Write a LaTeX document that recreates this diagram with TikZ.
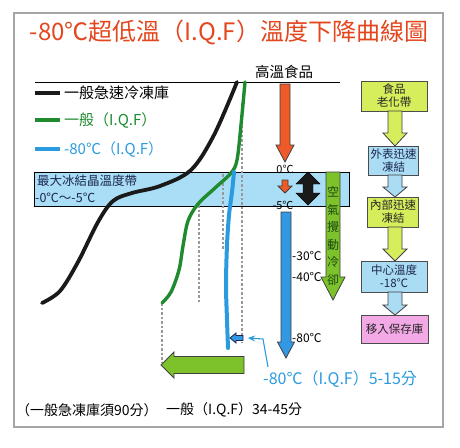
\documentclass[tikz,border=0pt]{standalone}
\usepackage{fontspec}
\setmainfont{Noto Sans CJK TC}
\usetikzlibrary{arrows.meta}
\definecolor{titlered}{HTML}{E4461E}
\definecolor{cblack}{HTML}{1A1A1A}
\definecolor{cgreen}{HTML}{1F8A2E}
\definecolor{cblue}{HTML}{2B9BE0}
\definecolor{bandblue}{HTML}{A9DEF6}
\definecolor{arrorange}{HTML}{EF5A2A}
\definecolor{arrblue}{HTML}{3398E4}
\definecolor{arrgreen}{HTML}{7DC22B}
\definecolor{boxyellow}{HTML}{D6EE5C}
\definecolor{boxblue}{HTML}{AADCF4}
\definecolor{boxpink}{HTML}{F3A9E6}
\definecolor{darkgreen}{HTML}{1E4A10}
\definecolor{navy}{HTML}{1C2650}
\newcommand\downblk[7]{%
  \draw[#7] ({#1-#4/2},#2) -- ({#1+#4/2},#2) -- ({#1+#4/2},{#3-#6}) -- ({#1+#5/2},{#3-#6}) -- (#1,#3) -- ({#1-#5/2},{#3-#6}) -- ({#1-#4/2},{#3-#6}) -- cycle;}
\tikzset{
  curve/.style={line width=3.8pt, line cap=round, line join=round},
  guide/.style={draw=gray!80, line width=1.6pt, dash pattern=on 2.5pt off 2pt},
  blkout/.style={draw=black!75, line width=0.8pt, line join=miter},
  boxstyle/.style={draw=black!70, line width=0.8pt, inner sep=0pt, align=center,
    font=\fontsize{11.5}{13}\selectfont, text=black!85},
  lbl/.style={inner sep=0pt, font=\fontsize{12}{13}\selectfont},
}
\begin{document}
\begin{tikzpicture}[x=1pt,y=-1pt]
\useasboundingbox (0,0) rectangle (460,447);
\fill[white] (0,0) rectangle (460,447);
% frame
\draw[gray!70, line width=1.2pt] (14,13) rectangle (443,427);
% title
\node[inner sep=0pt, text=titlered, font=\fontsize{24}{26}\selectfont] (title) at (229,32) {-80℃超低溫（I.Q.F）溫度下降曲線圖};
\node[inner sep=0pt, font=\fontsize{14.5}{15}\selectfont] (hot) at (284,72) {高溫食品};
\draw[black, line width=0.8pt] (35,82) coordinate (topl) -- (340,82) coordinate (topr);
% legend
\draw[cblack, line width=4pt] (35,93) -- (60,93);
\node[anchor=west, inner sep=0pt, font=\fontsize{15}{16}\selectfont] (lg1) at (64,93) {一般急速冷凍庫};
\draw[cgreen, line width=4pt] (35,120) -- (60,120);
\node[anchor=west, inner sep=0pt, text=cgreen, font=\fontsize{15}{16}\selectfont] (lg2) at (64,120) {一般（I.Q.F）};
\draw[cblue, line width=4pt] (35,149) -- (60,149);
\node[anchor=west, inner sep=0pt, text=cblue, font=\fontsize{15}{16}\selectfont] (lg3) at (64,149) {-80℃（I.Q.F）};
% band
\draw[fill=bandblue, draw=black, line width=0.9pt] (34,172) rectangle (349,206);
\node[anchor=west, lbl, text=navy, font=\fontsize{12.5}{13}\selectfont] (bd1) at (37,181) {最大冰結晶溫度帶};
\node[anchor=west, lbl, text=navy, font=\fontsize{12.5}{13}\selectfont] (bd2) at (35,198) {-0℃～-5℃};
% guides
\draw[guide] (162,303) -- (162,362);
\draw[guide] (199,205) -- (199,303);
\draw[guide] (223,174) -- (223,250);
\draw[guide] (242,103) -- (242,343);
% curves
\draw[curve, cblack] plot[smooth, tension=0.55] coordinates {(237,82) (214,135) (191,170) (160,186) (132,193) (113,201) (98,222) (78,262) (60,291) (42,303)};
\draw[curve, cgreen, line width=3.4pt] plot[smooth, tension=0.55] coordinates {(245,82) (241,125) (237,160) (231,173) (215,188) (198,204) (188,221) (183,246) (179,270) (171,292) (162,303)};
\draw[curve, cblue, line width=4pt] plot[smooth, tension=0.55] coordinates {(234,172) (232,192) (229,215) (227,245) (226,285) (227,320) (228,348)};
% small blue arrow and pointer
\draw[fill=arrblue, draw=navy, line width=0.8pt] (230,338) -- (236,333) -- (236,335.5) -- (243,335.5) -- (243,340.5) -- (236,340.5) -- (236,343) -- cycle;
\coordinate (ptr) at (248,338);
\node[anchor=west, inner sep=0pt, text=cblue, font=\fontsize{16}{17}\selectfont] (res) at (263,379) {-80℃（I.Q.F）5-15分};
\draw[cblue, line width=1.1pt, -{Stealth[length=7pt,width=6pt]}] (268,367) -- (263,339) -- (ptr);
% big green left arrow
\draw[fill=arrgreen, blkout] (161,365) -- (174,352) -- (174,356.5) -- (244,356.5) -- (244,373.5) -- (174,373.5) -- (174,378) -- cycle;
% central arrows
\downblk{285}{84}{162}{10}{18}{17}{fill=arrorange, blkout}
\node[lbl, font=\fontsize{11}{12}\selectfont] (t0) at (285,169) {0℃};
\downblk{285}{180}{193}{6}{14}{7}{fill=arrorange, blkout}
\node[lbl, font=\fontsize{11}{12}\selectfont] (t5) at (283,205) {-5℃};
\draw[fill=cblack, draw=black] (308,172) -- (320,184) -- (313,184) -- (313,193) -- (320,193) -- (308,205) -- (296,193) -- (303,193) -- (303,184) -- (296,184) -- cycle;
\downblk{286}{212}{358}{10}{17}{16}{fill=arrblue, blkout}
\node[lbl, anchor=west] (t30) at (292,256) {-30℃};
\node[lbl, anchor=west] (t40) at (292,277) {-40℃};
\node[lbl, anchor=west] (t80) at (292,338) {-80℃};
\downblk{333}{172}{300}{14}{24}{23}{fill=arrgreen, blkout}
\node[inner sep=0pt, align=center, text=darkgreen, font=\fontsize{12}{17.5}\selectfont] (air) at (333,236) {空\\氣\\攪\\動\\冷\\卻};
% right column
\node[boxstyle, fill=boxyellow, minimum width=66pt, minimum height=30pt] (b1) at (394,96) {食品\\老化帶};
\node[boxstyle, fill=boxblue, minimum width=50pt, minimum height=29pt, text=navy] (b2) at (393.5,160.5) {外表迅速\\凍結};
\node[boxstyle, fill=boxyellow, minimum width=51pt, minimum height=30pt] (b3) at (393,212) {內部迅速\\凍結};
\node[boxstyle, fill=boxblue, minimum width=66pt, minimum height=31pt, text=navy] (b4) at (394,276.5) {中心溫度\\-18℃};
\node[boxstyle, fill=boxpink, minimum width=67pt, minimum height=28pt] (b5) at (394.5,329) {移入保存庫};
\downblk{395}{111}{146}{14}{24}{13}{fill=boxyellow, blkout}
\downblk{395}{175}{197}{14}{24}{10}{fill=boxblue, blkout}
\downblk{395}{227}{261}{14}{24}{12}{fill=boxyellow, blkout}
\downblk{395}{292}{315}{14}{24}{10}{fill=boxblue, blkout}
% bottom text
\node[anchor=west, inner sep=0pt, font=\fontsize{14}{15}\selectfont] (n90) at (16,410) {（一般急凍庫須90分）};
\node[anchor=west, inner sep=0pt, font=\fontsize{14}{15}\selectfont] (n34) at (166,410) {一般（I.Q.F）34-45分};
\end{tikzpicture}
\end{document}
